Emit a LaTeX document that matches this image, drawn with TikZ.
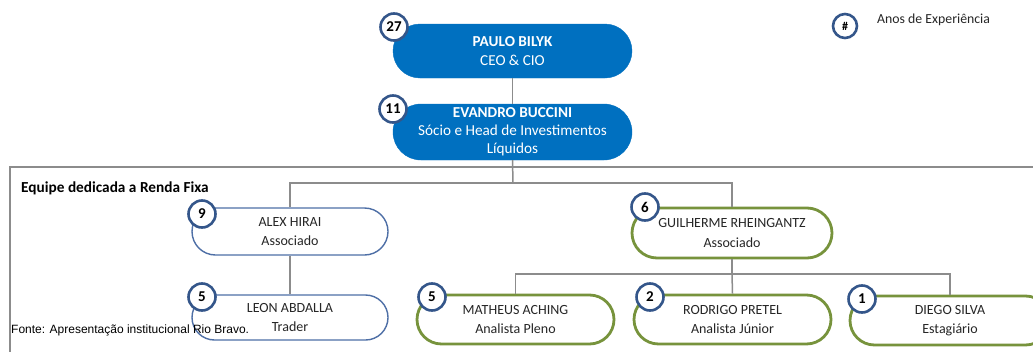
\documentclass[tikz,border=0pt]{standalone}
\usepackage{fontspec}
\setmainfont{Carlito}
\newfontfamily\arialf{Liberation Sans}
\usetikzlibrary{shapes.misc}
\definecolor{cblue}{HTML}{0070C0}
\definecolor{cbadge}{HTML}{34568A}
\definecolor{calex}{HTML}{4E6FA6}
\definecolor{cgreen}{HTML}{77933C}
\definecolor{cline}{HTML}{8C8C8C}
\definecolor{ctext}{HTML}{262626}
\tikzset{
  pill/.style={rounded rectangle, inner sep=0pt, align=center},
  bluebox/.style={pill, fill=cblue, draw=cblue, text=white, minimum width=239pt,
    font=\fontsize{15.2}{19}\selectfont},
  alexbox/.style={pill, fill=white, draw=calex, line width=1.4pt, text=ctext,
    minimum width=196pt, font=\fontsize{14}{19.5}\selectfont},
  greenbox/.style={pill, fill=white, draw=cgreen, line width=2.8pt, text=ctext,
    minimum width=197pt, font=\fontsize{14}{19.5}\selectfont},
  badge/.style={circle, fill=white, draw=cbadge, line width=2.6pt, minimum size=27pt,
    inner sep=0pt, font=\bfseries\fontsize{15}{15}\selectfont, text=black},
  conn/.style={draw=cline, line width=1.5pt},
}
\begin{document}
\begin{tikzpicture}[x=1pt,y=-1pt]
\useasboundingbox (0,0) rectangle (1033,351);
\clip (0,0) rectangle (1033,351);
\fill[white] (0,0) rectangle (1033,351);
% frame
\draw[draw=cline, line width=1.8pt] (10,167) rectangle (1060,380);
% top boxes
\node[bluebox, minimum height=54pt] (paulo) at (512.5,51) {\textbf{PAULO BILYK}\\CEO \& CIO};
\node[bluebox, minimum height=56pt, font=\fontsize{15.2}{18}\selectfont, text depth=3pt] (evandro) at (512.5,132) {\textbf{EVANDRO BUCCINI}\\Sócio e Head de Investimentos\\Líquidos};
% team boxes
\node[alexbox, minimum height=47pt] (alex) at (290,231.5) {ALEX HIRAI\\Associado};
\node[alexbox, minimum height=45pt] (leon) at (290,317.5) {LEON ABDALLA\\Trader};
\node[greenbox, minimum width=200pt, minimum height=50pt] (guilherme) at (732,233) {GUILHERME RHEINGANTZ\\Associado};
\node[greenbox, minimum height=49pt] (matheus) at (515.5,319.5) {MATHEUS ACHING\\Analista Pleno};
\node[greenbox, minimum height=49pt] (rodrigo) at (732.5,319.5) {RODRIGO PRETEL\\Analista Júnior};
\node[greenbox, minimum width=200pt, minimum height=49pt] (diego) at (950,320.5) {DIEGO SILVA\\Estagiário};
% connectors
\coordinate (j1) at (513,183);
\coordinate (j2) at (732,274);
\draw[conn] (paulo.south) -- (evandro.north);
\draw[conn] (evandro.south) -- (j1);
\draw[conn] (alex.north) |- (j1) -| (guilherme.north);
\draw[conn] (alex.south) -- (leon.north);
\draw[conn] (guilherme.south) -- (j2);
\draw[conn] (matheus.north) |- (j2) -| (diego.north);
\draw[conn] (j2) -- (rodrigo.north);
% badges
\node[badge] (b27) at (394,27) {27};
\node[badge] (b11) at (393,109) {11};
\node[badge] (b9) at (202,214) {9};
\node[badge] (b5a) at (202,297) {5};
\node[badge] (b6) at (645,207) {6};
\node[badge] (b5b) at (432,297) {5};
\node[badge] (b2) at (650,297) {2};
\node[badge] (b1) at (862,299) {1};
% labels
\node[anchor=west, font=\bfseries\fontsize{15.3}{15.3}\selectfont, inner sep=0pt] (equipe) at (21,188) {Equipe dedicada a Renda Fixa};
\node[badge, minimum size=24pt, font=\bfseries\fontsize{12}{12}\selectfont] (legb) at (845,26) {\#};
\node[anchor=west, font=\fontsize{13.8}{13.8}\selectfont, text=ctext, inner sep=0pt] (legt) at (877,20) {Anos de Experiência};
\node[anchor=west, font=\arialf\fontsize{12}{12}\selectfont, inner sep=0pt] (fonte) at (11,330) {Fonte: Apresentação institucional Rio Bravo.};
\end{tikzpicture}
\end{document}
